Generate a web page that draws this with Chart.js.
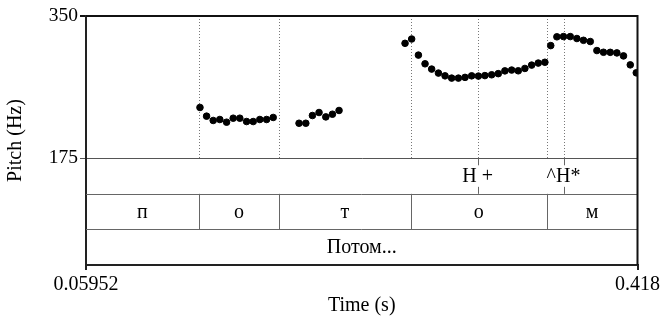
<!DOCTYPE html>
<html>
<head>
<meta charset="utf-8">
<script src="https://cdn.jsdelivr.net/npm/chart.js@4/dist/chart.umd.min.js"></script>
<style>
  html, body { margin: 0; padding: 0; background: #fff; }
  canvas { display: block; }
</style>
</head>
<body>
<canvas id="c" width="663" height="316"></canvas>
<script>
// ---- Data ----
const timeRange = [0.05952, 0.418];
const pitchTicks = [175, 350];

const pitchTimes = [
  0.1336, 0.1379, 0.1422, 0.1465, 0.1509, 0.1552, 0.1595, 0.1639, 0.1682, 0.1725, 0.1769, 0.1812,
  0.1980, 0.2024, 0.2067, 0.2110, 0.2154, 0.2197, 0.2240,
  0.2669, 0.2712, 0.2756, 0.2799, 0.2842, 0.2886, 0.2929, 0.2972, 0.3016, 0.3059, 0.3102, 0.3146,
  0.3188, 0.3232, 0.3275, 0.3318, 0.3362, 0.3405, 0.3448, 0.3492, 0.3535, 0.3578, 0.3616, 0.3656,
  0.3699, 0.3743, 0.3786, 0.3829, 0.3873, 0.3916, 0.3959, 0.4003, 0.4046, 0.4089, 0.4133, 0.4172
];
const pitchHz = [
  237.5, 226.8, 221.5, 222.7, 219.4, 224.3, 224.3, 220.2, 220.2, 222.7, 222.7, 225.2,
  218.1, 218.1, 227.6, 231.3, 225.9, 229.2, 233.8,
  316.4, 321.7, 301.9, 291.2, 284.7, 279.8, 276.4, 273.6, 273.6, 274.5, 276.4, 276.1,
  276.7, 277.7, 279.1, 282.5, 283.5, 282.6, 285.5, 289.6, 292.1, 293.1, 313.6, 324.4,
  324.7, 324.7, 322.3, 320.1, 318.6, 307.5, 305.4, 305.3, 304.6, 300.9, 289.9, 280.1
];

const toneTimes = [0.3141, 0.3699];
const toneLabels = ['H +', '^H*'];
const segmentBounds = [0.1329, 0.1849, 0.2706, 0.3589];
const segmentLabels = ['п', 'о', 'т', 'о', 'м'];
const wordBounds = [];
const wordLabels = ['Потом...'];

// ---- Layout ----
const FONT = "'Liberation Serif', 'Times New Roman', serif";
const TIER_FRACTION = 0.75; // tiers total height relative to pitch panel height
const yMin = pitchTicks[0] - (pitchTicks[1] - pitchTicks[0]) * TIER_FRACTION;

const points = pitchTimes.map((t, i) => ({ x: t, y: pitchHz[i] }));

const textgridPlugin = {
  id: 'textgrid',
  beforeDatasetsDraw(chart) {
    const { ctx, chartArea: a, scales: { x, y } } = chart;
    const y175 = y.getPixelForValue(pitchTicks[0]);
    ctx.save();
    ctx.strokeStyle = '#777';
    ctx.lineWidth = 1;
    ctx.setLineDash([1, 2]);
    [...segmentBounds, ...toneTimes].forEach(t => {
      const px = Math.round(x.getPixelForValue(t)) + 0.5;
      ctx.beginPath();
      ctx.moveTo(px, a.top);
      ctx.lineTo(px, y175);
      ctx.stroke();
    });
    ctx.restore();
  },
  afterDraw(chart) {
    const { ctx, chartArea: a, scales: { x, y } } = chart;
    const y175 = y.getPixelForValue(pitchTicks[0]);
    const tierH = (a.bottom - y175) / 3;
    const tTop = [y175, y175 + tierH, y175 + 2 * tierH];
    ctx.save();
    ctx.strokeStyle = '#666';
    ctx.lineWidth = 1;
    [tTop[1], tTop[2]].forEach(py => {
      const yy = Math.round(py) + 0.5;
      ctx.beginPath();
      ctx.moveTo(a.left, yy);
      ctx.lineTo(a.right, yy);
      ctx.stroke();
    });
    segmentBounds.forEach(t => {
      const px = Math.round(x.getPixelForValue(t)) + 0.5;
      ctx.beginPath();
      ctx.moveTo(px, tTop[1]);
      ctx.lineTo(px, tTop[2]);
      ctx.stroke();
    });
    toneTimes.forEach(t => {
      const px = Math.round(x.getPixelForValue(t)) + 0.5;
      ctx.beginPath();
      ctx.moveTo(px, tTop[0]);
      ctx.lineTo(px, tTop[0] + 7);
      ctx.moveTo(px, tTop[1] - 7);
      ctx.lineTo(px, tTop[1]);
      ctx.stroke();
    });
    ctx.fillStyle = '#000';
    ctx.font = '20px ' + FONT;
    ctx.textAlign = 'center';
    ctx.textBaseline = 'middle';
    toneTimes.forEach((t, i) => {
      ctx.fillText(toneLabels[i], x.getPixelForValue(t), tTop[0] + tierH / 2 + 1);
    });
    const segEdges = [timeRange[0], ...segmentBounds, timeRange[1]];
    segmentLabels.forEach((lab, i) => {
      const cx = (x.getPixelForValue(segEdges[i]) + x.getPixelForValue(segEdges[i + 1])) / 2;
      ctx.fillText(lab, cx, tTop[1] + tierH / 2 + 1);
    });
    const wordEdges = [timeRange[0], ...wordBounds, timeRange[1]];
    wordLabels.forEach((lab, i) => {
      const cx = (x.getPixelForValue(wordEdges[i]) + x.getPixelForValue(wordEdges[i + 1])) / 2;
      ctx.fillText(lab, cx, tTop[2] + tierH / 2 + 1);
    });
    ctx.strokeStyle = '#111';
    ctx.lineWidth = 2;
    ctx.beginPath();
    ctx.moveTo(a.left, a.top);
    ctx.lineTo(a.right, a.top);
    ctx.lineTo(a.right, a.bottom);
    ctx.stroke();
    ctx.restore();
  }
};

new Chart(document.getElementById('c'), {
  type: 'scatter',
  data: {
    datasets: [{
      data: points,
      backgroundColor: '#000',
      borderColor: '#000',
      pointRadius: 3.3,
      pointHoverRadius: 3.3,
      showLine: false
    }]
  },
  options: {
    responsive: false,
    devicePixelRatio: 1,
    animation: false,
    events: [],
    layout: { padding: { top: 16, right: 25, left: 0, bottom: 0 } },
    plugins: { legend: { display: false }, tooltip: { enabled: false } },
    scales: {
      x: {
        type: 'linear',
        min: timeRange[0],
        max: timeRange[1],
        afterBuildTicks(scale) { scale.ticks = timeRange.map(v => ({ value: v })); },
        afterFit(scale) { scale.height = 51; },
        ticks: {
          color: '#000',
          font: { family: FONT, size: 20 },
          padding: 3,
          maxRotation: 0,
          autoSkip: false,
          callback: v => String(v)
        },
        grid: { drawOnChartArea: false, drawTicks: true, tickLength: 5, color: '#222', lineWidth: 2 },
        border: { display: true, color: '#222', width: 2 },
        title: { display: true, text: 'Time (s)', color: '#000', font: { family: FONT, size: 20, lineHeight: 1.0 }, padding: { top: 0, bottom: 0 } }
      },
      y: {
        type: 'linear',
        min: yMin,
        max: pitchTicks[1],
        afterBuildTicks(scale) { scale.ticks = pitchTicks.map(v => ({ value: v })); },
        afterFit(scale) { scale.width = 86; },
        ticks: {
          color: '#000',
          font: { family: FONT, size: 19.5 },
          padding: 2,
          autoSkip: false,
          callback: v => String(v)
        },
        grid: {
          drawOnChartArea: true,
          drawTicks: true,
          tickLength: 6,
          color: ctx => (ctx.tick && ctx.tick.value === pitchTicks[0]) ? '#555' : '#111',
          lineWidth: ctx => (ctx.tick && ctx.tick.value === pitchTicks[0]) ? 1 : 2
        },
        border: { display: true, color: '#222', width: 2 },
        title: { display: true, text: 'Pitch (Hz)', color: '#000', font: { family: FONT, size: 20 }, padding: { top: 4, bottom: 0 } }
      }
    }
  },
  plugins: [textgridPlugin]
});
</script>
</body>
</html>
